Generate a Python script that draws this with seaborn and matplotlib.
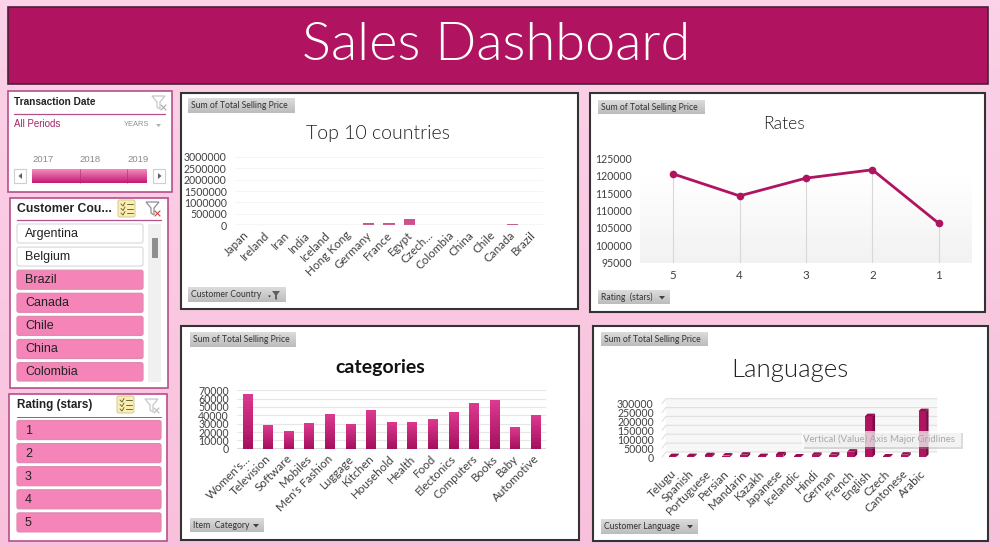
import numpy as np
import pandas as pd
import matplotlib.pyplot as plt
import seaborn as sns
from matplotlib.colors import LinearSegmentedColormap
from matplotlib.patches import FancyBboxPatch, Polygon, Rectangle
from matplotlib.transforms import Affine2D

# Chart data
country_names = ["Japan", "Ireland", "Iran", "India", "Iceland", "Hong Kong", "Germany", "France",
                 "Egypt", "Czech…", "Colombia", "China", "Chile", "Canada", "Brazil"]
country_sales = [4000, 3000, 3000, 4000, 2000, 6000, 80000, 85000, 290000, 5000, 6000, 5000, 4000, 40000, 8000]

rating_stars = ["5", "4", "3", "2", "1"]
rating_sales = [120500, 114200, 119300, 121700, 106300]

category_names = ["Women's…", "Television", "Software", "Mobiles", "Men's Fashion", "Luggage", "Kitchen",
                  "Household", "Health", "Food", "Electonics", "Computers", "Books", "Baby", "Automotive"]
category_sales = [65000, 28500, 21500, 31000, 41000, 30000, 46000, 32500, 32500, 35500, 43500, 55000, 58000,
                  26000, 40000]

language_names = ["Telugu", "Spanish", "Portuguese", "Persian", "Mandarin", "Kazakh", "Japanese", "Icelandic",
                  "Hindi", "German", "French", "English", "Czech", "Cantonese", "Arabic"]
language_sales = [5000, 5000, 10000, 8000, 13000, 5000, 15000, 3000, 12000, 13000, 30000, 230000, 3000, 13000,
                  258000]

slicer_countries = ["Argentina", "Belgium", "Brazil", "Canada", "Chile", "China", "Colombia"]
slicer_ratings = ["1", "2", "3", "4", "5"]
timeline_years = ["2017", "2018", "2019"]

W, H = 1000, 547
CHART_FONT = "Lato"
SLICER_FONT = "Liberation Sans"
DARK = "#404040"
BORDER = "#b5508a"

sns.set_theme(style="white")
plt.rcParams["font.family"] = [CHART_FONT, "DejaVu Sans"]

fig = plt.figure(figsize=(W / 100, H / 100), dpi=100)


def overlay(z):
    ax = fig.add_axes([0, 0, 1, 1], zorder=z)
    ax.set_xlim(0, W)
    ax.set_ylim(H, 0)
    ax.axis("off")
    ax.patch.set_alpha(0)
    return ax


def gradient(ax, x0, y0, x1, y1, top, bottom, clip=None, z=2):
    cmap = LinearSegmentedColormap.from_list("g", [top, bottom])
    im = ax.imshow(np.linspace(0, 1, 64).reshape(-1, 1), cmap=cmap, extent=(x0, x1, y1, y0),
                   aspect="auto", zorder=z)
    if clip is not None:
        im.set_clip_path(clip)
    return im


def box(ax, x0, y0, x1, y1, face="white", edge="#333333", lw=1.5, z=1):
    ax.add_patch(Rectangle((x0, y0), x1 - x0, y1 - y0, facecolor=face, edgecolor=edge, linewidth=lw, zorder=z))


def field_button(ax, x0, y0, x1, y1, label, arrow=True):
    gradient(ax, x0, y0, x1, y1, "#dcdcdc", "#bcbcbc", z=3)
    ax.text(x0 + 3, (y0 + y1) / 2, label, fontsize=6.2, color="#333333", va="center", ha="left",
            family=CHART_FONT, zorder=4)
    if arrow:
        ax.add_patch(Polygon([(x1 - 11, y0 + 6), (x1 - 5, y0 + 6), (x1 - 8, y0 + 9.5)], facecolor="#404040",
                             edgecolor="none", zorder=4))


def funnel(ax, x, y, color, cross="#d05050"):
    ax.add_patch(Polygon([(x, y), (x + 13, y), (x + 8, y + 6), (x + 8, y + 13), (x + 5, y + 11), (x + 5, y + 6)],
                         facecolor="white", edgecolor=color, linewidth=0.9, zorder=4))
    ax.plot([x + 9, x + 14], [y + 9, y + 14], color=cross, lw=0.9, zorder=4)
    ax.plot([x + 14, x + 9], [y + 9, y + 14], color=cross, lw=0.9, zorder=4)


def checklist(ax, x, y):
    ax.add_patch(FancyBboxPatch((x, y), 17, 17, boxstyle="round,pad=0,rounding_size=2", facecolor="#fbeeb0",
                                edgecolor="#d8cda0", linewidth=0.8, zorder=4))
    for i in range(3):
        ax.plot([x + 3, x + 5, x + 7], [y + 4 + i * 4.5, y + 6 + i * 4.5, y + 2.5 + i * 4.5], color="#6a6a40", lw=0.7, zorder=5)
        ax.plot([x + 9, x + 15], [y + 4 + i * 4.5, y + 4 + i * 4.5], color="#6a6a40", lw=0.7, zorder=5)


def slicer_button(ax, x0, y0, x1, y1, label, selected=True):
    face = "#f585b8" if selected else "white"
    edge = "#e08ab0" if selected else "#dcdcdc"
    ax.add_patch(FancyBboxPatch((x0, y0), x1 - x0, y1 - y0, boxstyle="round,pad=0,rounding_size=2",
                                facecolor=face, edgecolor=edge, linewidth=0.9, zorder=3))
    ax.text(x0 + 8, (y0 + y1) / 2 + 0.5, label, fontsize=9, color="#222222", va="center", family=SLICER_FONT, zorder=4)


def chart_axes(x0, y0, x1, y1, ymax, step):
    ax = fig.add_axes([x0 / W, 1 - y1 / H, (x1 - x0) / W, (y1 - y0) / H], zorder=2)
    ax.patch.set_alpha(0)
    ax.set_ylim(0, ymax)
    ax.set_yticks(np.arange(0, ymax + 1, step))
    ax.tick_params(axis="y", labelsize=7.6, labelcolor=DARK, length=0, pad=6)
    ax.tick_params(axis="x", labelsize=8.4, labelcolor=DARK, length=0)
    ax.set_xlabel("")
    ax.set_ylabel("")
    sns.despine(ax=ax, left=True, right=True, top=True, bottom=True)
    return ax


def tilt_labels(ax, labels, pad=3):
    ax.set_xticks(range(len(labels)))
    ax.set_xticklabels(labels, rotation=45, ha="right", rotation_mode="anchor", color=DARK)
    ax.tick_params(axis="x", pad=pad)
    ax.ticklabel_format(style="plain", axis="y")
    for label in ax.get_xticklabels():
        label.set_transform(label.get_transform() + Affine2D().translate(-2.5, 0))


# Background, header and panels
back = overlay(0)
gradient(back, 0, 0, W, H, "#fbd2e7", "#f9c0dc", z=0)
back.add_patch(Rectangle((8, 7), 980, 77, facecolor="#b0135f", edgecolor="#4a2038", linewidth=1.2, zorder=1))
back.text(496, 45, "Sales Dashboard", color="white", fontsize=39, fontweight=300, ha="center", va="center",
          family=CHART_FONT, zorder=2)

box(back, 181, 93, 578, 309)
box(back, 590, 93, 985, 312)
box(back, 181, 326, 579, 540)
box(back, 593, 326, 988, 541)

# Transaction date slicer
box(back, 8, 91, 172, 192, edge=BORDER, lw=1.2)
back.text(14, 102, "Transaction Date", fontsize=7.3, fontweight="bold", color="#222222", va="center",
          family=SLICER_FONT, zorder=4)
back.plot([14, 165], [113.5, 113.5], color=BORDER, lw=0.9, zorder=3)
back.text(14, 124, "All Periods", fontsize=7, color="#a0286a", va="center", family=SLICER_FONT, zorder=4)
back.text(124, 124.5, "YEARS", fontsize=5.4, color="#909090", va="center", family=SLICER_FONT, zorder=4)
back.add_patch(Polygon([(156, 124), (161, 124), (158.5, 127)], facecolor="#b0b0b0", edgecolor="none", zorder=4))
funnel(back, 152, 96, "#c8c8c8", cross="#b0b0b0")
gradient(back, 32, 169, 147, 183, "#f48cc0", "#c21a72", z=3)
for i, year in enumerate(timeline_years):
    t = back.text(43 + i * 47.5, 160, year, fontsize=6.8, color="#8a8a8a", va="center", ha="center",
                  family=SLICER_FONT, zorder=4)
    t.set_clip_path(Rectangle((32, 150), 114, 20, transform=back.transData))
for i in range(2):
    back.plot([79.5 + i * 47.5] * 2, [169, 183], color="#b02a70", lw=0.4, zorder=4)
for x0, pts in [(14, [(22, 173), (22, 179), (18.5, 176)]), (153, [(158, 173), (158, 179), (161.5, 176)])]:
    back.add_patch(Rectangle((x0, 169), 12, 14, facecolor="white", edgecolor="#cfcfcf", linewidth=0.8, zorder=3))
    back.add_patch(Polygon(pts, facecolor="#606060", edgecolor="none", zorder=4))

# Country slicer
box(back, 10, 198, 168, 388, edge=BORDER, lw=1.2)
back.text(17, 209, "Customer Cou...", fontsize=8.8, fontweight="bold", color="#222222", va="center",
          family=SLICER_FONT, zorder=4)
back.plot([17, 161], [219.5, 219.5], color=BORDER, lw=0.9, zorder=3)
checklist(back, 118, 200)
funnel(back, 146, 202, "#909090")
back.add_patch(Rectangle((148, 224), 13, 158, facecolor="#f0f0f0", edgecolor="none", zorder=2))
back.add_patch(Rectangle((151.5, 238), 6, 20, facecolor="#8f8f8f", edgecolor="none", zorder=3))
for i, name in enumerate(slicer_countries):
    y0 = 224 + i * 23.1
    slicer_button(back, 17, y0, 143, min(y0 + 19, 381), name, selected=i >= 2)

# Rating slicer
box(back, 9, 394, 167, 541, edge=BORDER, lw=1.2)
back.text(17, 405, "Rating (stars)", fontsize=8.4, fontweight="bold", color="#222222", va="center",
          family=SLICER_FONT, zorder=4)
back.plot([17, 161], [416.5, 416.5], color="#707070", lw=0.7, zorder=3)
checklist(back, 117, 396)
funnel(back, 145, 399, "#c8c8c8", cross="#c0c0c0")
for i, name in enumerate(slicer_ratings):
    y0 = 420.5 + i * 23.1
    slicer_button(back, 17, y0, 161, y0 + 19, name)

# Top 10 countries
ax1 = chart_axes(235, 156.7, 543, 225.3, 3000000, 500000)
df_country = pd.DataFrame({"country": country_names, "sales": country_sales})
sns.barplot(data=df_country, x="country", y="sales", color="#d0508f", width=0.55, saturation=1, linewidth=0, ax=ax1)
ax1.set_xlim(-0.5, 14.5)
ax1.set_xlabel("")
ax1.set_ylabel("")
ax1.yaxis.grid(True, color="#f4f4f4", lw=0.7)
ax1.set_axisbelow(True)
ax1.axhline(0, color="#b8b8b8", lw=0.9)
tilt_labels(ax1, country_names)
back.text(378, 133, "Top 10 countries", fontsize=14, fontweight=300, color="#222222", ha="center", va="center",
          family=CHART_FONT, zorder=4)

# Rates line
ax2 = chart_axes(640, 158.3, 972, 262.7, 125000, 5000)
gradient(ax2, -0.5, 120000, 4.5, 95000, "#ffffff", "#f2f2f2", z=0)
df_rating = pd.DataFrame({"rating": rating_stars, "sales": rating_sales})
ax2.vlines(range(len(rating_stars)), 95000, rating_sales, color="#d8d8d8", lw=0.8, zorder=1)
sns.lineplot(data=df_rating, x="rating", y="sales", sort=False, color="#b0135f", lw=2, marker="o",
             markersize=5.5, markeredgewidth=0, ax=ax2)
ax2.set_xlim(-0.5, 4.5)
ax2.set_ylim(95000, 125000)
ax2.set_yticks(np.arange(95000, 125001, 5000))
ax2.set_aspect("auto")
ax2.set_xlabel("")
ax2.set_ylabel("")
ax2.tick_params(axis="x", pad=5.5)
back.text(784, 124, "Rates", fontsize=12.5, fontweight=300, color="#222222", ha="center", va="center",
          family=CHART_FONT, zorder=4)

# Categories
ax3 = chart_axes(237, 390.3, 546, 448.7, 70000, 10000)
df_category = pd.DataFrame({"category": category_names, "sales": category_sales})
sns.barplot(data=df_category, x="category", y="sales", color="#c0206f", width=0.45, saturation=1, linewidth=0, ax=ax3)
ax3.set_xlim(-0.5, 14.5)
ax3.set_xlabel("")
ax3.set_ylabel("")
ax3.yaxis.grid(True, color="#e6e6e6", lw=0.8)
ax3.set_axisbelow(True)
ax3.axhline(0, color="#d8d8d8", lw=1.5)
for bar in list(ax3.patches):
    bx, bw, bh = bar.get_x(), bar.get_width(), bar.get_height()
    gradient(ax3, bx, bh, bx + bw, 0, "#dc3a90", "#a60f5e", clip=bar, z=3)
ax3.set_aspect("auto")
ax3.set_xlim(-0.5, 14.5)
ax3.set_ylim(0, 70000)
tilt_labels(ax3, category_names)
back.text(380, 367, "categories", fontsize=14, fontweight="bold", color="#111111", ha="center", va="center",
          family=CHART_FONT, zorder=4)

# Languages, drawn with a fake depth
ax4 = chart_axes(662, 403.7, 933, 457, 300000, 50000)
df_language = pd.DataFrame({"language": language_names, "sales": language_sales})
sns.barplot(data=df_language, x="language", y="sales", color="#b0135f", width=0.42, saturation=1, linewidth=0,
            ax=ax4, zorder=3)
language_bars = list(ax4.patches)
ax4.set_xlim(-0.6, 14.6)
ax4.set_xlabel("")
ax4.set_ylabel("")
px_x = 15.2 / 271
px_y = 300000 / 53.3
wall_x, wall_y = 4 * px_x, 5 * px_y
ax4.add_patch(Rectangle((-0.6 + wall_x, wall_y), 15.2, 300000, facecolor="#f7f7f7", edgecolor="none", zorder=0,
                        clip_on=False))
for tick in np.arange(0, 300001, 50000):
    ax4.plot([-0.6, -0.6 + wall_x, 14.6 + wall_x], [tick, tick + wall_y, tick + wall_y], color="#e0e0e0", lw=0.8,
             zorder=1, clip_on=False)
side_x, side_y = 2.5 * px_x, 2.5 * px_y
for bar in language_bars:
    bx, bw, bh = bar.get_x(), bar.get_width(), bar.get_height()
    right = bx + bw
    ax4.add_patch(Polygon([(right, 0), (right + side_x, side_y), (right + side_x, bh + side_y), (right, bh)],
                          facecolor="#7a0b44", edgecolor="none", zorder=4, clip_on=False))
    ax4.add_patch(Polygon([(bx, bh), (bx + side_x, bh + side_y), (right + side_x, bh + side_y), (right, bh)],
                          facecolor="#8f0f50", edgecolor="none", zorder=4, clip_on=False))
ax4.set_xlim(-0.6, 14.6)
ax4.set_ylim(0, 300000)
tilt_labels(ax4, language_names, pad=8)
back.text(790, 370, "Languages", fontsize=18.5, fontweight=300, color="#222222", ha="center", va="center",
          family=CHART_FONT, zorder=4)

# Buttons and tooltip go above the charts
front = overlay(5)
field_button(front, 188, 98, 295, 113, "Sum of Total Selling Price", arrow=False)
field_button(front, 188, 287, 286, 302, "Customer Country", arrow=False)
front.add_patch(Polygon([(272, 291), (280, 291), (277, 295), (277, 300), (275, 299), (275, 295)], facecolor="#606060",
                        edgecolor="none", zorder=5))
front.add_patch(Polygon([(268, 295.5), (271, 295.5), (269.5, 297.5)], facecolor="#404040", edgecolor="none", zorder=5))
field_button(front, 598, 100, 705, 114, "Sum of Total Selling Price", arrow=False)
field_button(front, 598, 290, 670, 304, "Rating  (stars)")
field_button(front, 190, 332, 296, 347, "Sum of Total Selling Price", arrow=False)
field_button(front, 190, 518, 264, 532, "Item  Category")
field_button(front, 601, 332, 708, 346, "Sum of Total Selling Price", arrow=False)
field_button(front, 601, 519, 698, 534, "Customer Language")

front.add_patch(Rectangle((804, 433), 159, 16, facecolor="#9a9a9a", alpha=0.35, edgecolor="none", zorder=5))
front.add_patch(Rectangle((802, 431), 159, 16, facecolor="white", alpha=0.68, edgecolor="none", zorder=6))
front.text(879, 439, "Vertical (Value) Axis Major Gridlines", fontsize=6.9, color="#a8a8a8", ha="center", va="center",
           family=CHART_FONT, zorder=7)

fig.savefig("out.png", dpi=100)
